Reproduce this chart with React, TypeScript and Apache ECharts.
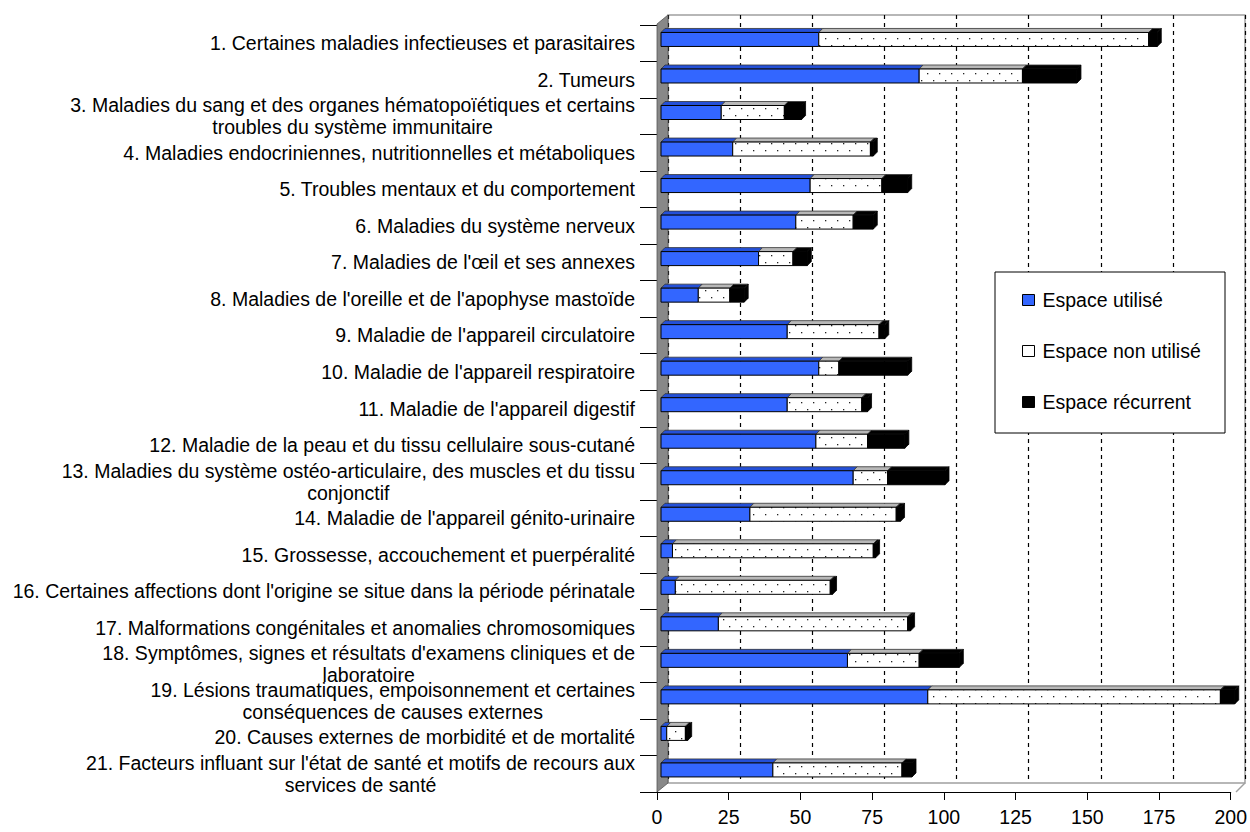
import React, { useEffect, useRef } from "react";
import * as echarts from "echarts";

const categories: string[] = [
  "1. Certaines maladies infectieuses et parasitaires",
  "2. Tumeurs",
  "3. Maladies du sang et des organes hématopoïétiques et certains\ntroubles du système immunitaire",
  "4. Maladies endocriniennes, nutritionnelles et métaboliques",
  "5. Troubles mentaux et du comportement",
  "6. Maladies du système nerveux",
  "7. Maladies de l'œil et ses annexes",
  "8. Maladies de l'oreille et de l'apophyse mastoïde",
  "9. Maladie de l'appareil circulatoire",
  "10. Maladie de l'appareil respiratoire",
  "11. Maladie de l'appareil digestif",
  "12. Maladie de la peau et du tissu cellulaire sous-cutané",
  "13. Maladies du système ostéo-articulaire, des muscles et du tissu\nconjonctif",
  "14. Maladie de l'appareil génito-urinaire",
  "15. Grossesse, accouchement et puerpéralité",
  "16. Certaines affections dont l'origine se situe dans la période périnatale",
  "17. Malformations congénitales et anomalies chromosomiques",
  "18. Symptômes, signes et résultats d'examens cliniques et de\nlaboratoire",
  "19. Lésions traumatiques, empoisonnement et certaines\nconséquences de causes externes",
  "20. Causes externes de morbidité et de mortalité",
  "21. Facteurs influant sur l'état de santé et motifs de recours aux\nservices de santé",
];

const seriesNames: string[] = ["Espace utilisé", "Espace non utilisé", "Espace récurrent"];

const espaceUtilise: number[] = [55, 90, 21, 25, 52, 47, 34, 13, 44, 55, 44, 54, 67, 31, 4, 5, 20, 65, 93, 2, 39];
const espaceNonUtilise: number[] = [115, 36, 22, 48, 25, 20, 12, 11, 32, 7, 26, 18, 12, 51, 70, 54, 66, 25, 102, 6.5, 45];
const espaceRecurrent: number[] = [3, 19, 6, 1, 9, 7, 5, 5, 2, 24, 2, 13, 20, 1.5, 0.8, 0.8, 1, 14, 5, 0.8, 3.5];

const xTicks: number[] = [0, 25, 50, 75, 100, 125, 150, 175, 200];

const FONT = "'Liberation Sans', Arial, sans-serif";

const dotTile =
  "data:image/svg+xml;charset=utf-8," +
  encodeURIComponent(
    '<svg xmlns="http://www.w3.org/2000/svg" width="12" height="14">' +
      '<rect width="12" height="14" fill="#ffffff"/>' +
      '<rect x="3" y="3" width="1.3" height="1.3" fill="#222"/>' +
      '<rect x="9" y="10" width="1.3" height="1.3" fill="#222"/>' +
      "</svg>"
  );

function buildSegments() {
  const seg: number[][][] = [[], [], []];
  categories.forEach((_, i) => {
    const a = espaceUtilise[i];
    const b = espaceNonUtilise[i];
    const c = espaceRecurrent[i];
    seg[0].push([i, 0, a]);
    seg[1].push([i, a, a + b]);
    seg[2].push([i, a + b, a + b + c]);
  });
  return seg;
}

const FRONT_COLORS = ["#3366ff", "pattern", "#000000"];
const TOP_COLORS = ["#2450d8", "#b8b8b8", "#000000"];

function makeRenderItem(kind: number) {
  return (params: any, api: any) => {
    const idx = api.value(0);
    const s = api.value(1);
    const e = api.value(2);
    const p0 = api.coord([s, idx]);
    const p1 = api.coord([e, idx]);
    const off = 4;
    const d = 4;
    const h = 14;
    const x0 = p0[0] + off;
    const x1 = p1[0] + off;
    const top = p0[1] - 10.8;
    const fill =
      kind === 1
        ? { image: dotTile, repeat: "repeat", imageWidth: 12, imageHeight: 14, x: 0, y: top }
        : FRONT_COLORS[kind];
    const children: any[] = [
      {
        type: "polygon",
        shape: {
          points: [
            [x0, top],
            [x0 + d, top - d],
            [x1 + d, top - d],
            [x1, top],
          ],
        },
        style: { fill: TOP_COLORS[kind], stroke: "#333", lineWidth: 0.8 },
      },
      {
        type: "rect",
        shape: { x: x0, y: top, width: Math.max(x1 - x0, 0.5), height: h },
        style: { fill, stroke: "#000", lineWidth: 1 },
      },
    ];
    if (kind === 2) {
      children.push({
        type: "polygon",
        shape: {
          points: [
            [x1, top],
            [x1 + d, top - d],
            [x1 + d, top + h - d],
            [x1, top + h],
          ],
        },
        style: { fill: "#000", stroke: "#000", lineWidth: 0.8 },
      });
    }
    return { type: "group", children };
  };
}

function labelFormatter(value: string) {
  const lines = value.split("\n");
  if (lines.length === 1) return value;
  return lines.map((l) => "{c|" + l + "}").join("\n");
}

export default function App() {
  const ref = useRef<HTMLDivElement>(null);

  useEffect(() => {
    if (!ref.current) return;
    const chart = echarts.init(ref.current, null, { renderer: "svg" });
    const seg = buildSegments();

    const option: any = {
      animation: false,
      backgroundColor: "#ffffff",
      textStyle: { fontFamily: FONT },
      grid: [
        { left: 657, right: 14, top: 25, bottom: 40, containLabel: false },
        {
          left: 668,
          right: 5,
          top: 15,
          bottom: 49,
          show: true,
          borderColor: "#a0a0a0",
          borderWidth: 1.5,
          backgroundColor: "transparent",
        },
      ],
      xAxis: [
        {
          type: "value",
          gridIndex: 0,
          min: xTicks[0],
          max: xTicks[xTicks.length - 1],
          interval: 25,
          axisLine: { show: true, lineStyle: { color: "#000", width: 1 } },
          axisTick: { show: true, length: 8, lineStyle: { color: "#000" } },
          axisLabel: { color: "#000", fontSize: 19.5, fontFamily: FONT, margin: 15 },
          splitLine: { show: false },
        },
        {
          type: "value",
          gridIndex: 1,
          min: xTicks[0],
          max: xTicks[xTicks.length - 1],
          interval: 25,
          axisLine: { show: false },
          axisTick: { show: false },
          axisLabel: { show: false },
          splitLine: { show: true, lineStyle: { color: "#000", type: [4, 4], width: 1.2 } },
        },
      ],
      yAxis: [
        {
          type: "category",
          gridIndex: 0,
          inverse: true,
          data: categories,
          axisLine: { show: true, lineStyle: { color: "#000", width: 1 } },
          axisTick: { show: true, length: 17, lineStyle: { color: "#000" } },
          axisLabel: {
            color: "#000",
            fontSize: 19.5,
            fontFamily: FONT,
            lineHeight: 22,
            margin: 22,
            interval: 0,
            formatter: labelFormatter,
            rich: { c: { align: "center", fontSize: 19.5, lineHeight: 22, fontFamily: FONT, color: "#000" } },
          },
          splitLine: { show: false },
        },
        { type: "value", gridIndex: 1, show: false, min: 0, max: 1 },
      ],
      legend: {
        orient: "vertical",
        left: 1022,
        top: 289,
        padding: 0,
        itemGap: 29,
        itemWidth: 12,
        itemHeight: 11,
        z: 60,
        textStyle: { color: "#000", fontSize: 19.5, fontFamily: FONT, lineHeight: 22, padding: [0, 0, 0, 3] },
        data: [
          { name: seriesNames[0], icon: "rect", itemStyle: { color: "#3366ff", borderColor: "#000", borderWidth: 1 } },
          { name: seriesNames[1], icon: "rect", itemStyle: { color: "#ffffff", borderColor: "#000", borderWidth: 1 } },
          { name: seriesNames[2], icon: "rect", itemStyle: { color: "#000000", borderColor: "#000", borderWidth: 1 } },
        ],
      },
      graphic: [
        {
          type: "polygon",
          z: 1,
          shape: { points: [[657, 24], [668, 15], [668, 783], [657, 792]] },
          style: { fill: "#888888", stroke: "#555", lineWidth: 0.8 },
        },
        {
          type: "line",
          z: 1,
          shape: { x1: 1236, y1: 792, x2: 1245, y2: 783 },
          style: { stroke: "#a0a0a0", lineWidth: 1.5 },
        },
        {
          type: "rect",
          z: 50,
          shape: { x: 995, y: 272, width: 230, height: 161 },
          style: { fill: "#ffffff", stroke: "#000", lineWidth: 1 },
        },
      ],
      series: [0, 1, 2].map((k) => ({
        name: seriesNames[k],
        type: "custom",
        xAxisIndex: 0,
        yAxisIndex: 0,
        z: 5,
        itemStyle: { color: k === 0 ? "#3366ff" : k === 1 ? "#ffffff" : "#000000" },
        encode: { x: [1, 2], y: 0 },
        renderItem: makeRenderItem(k),
        data: seg[k],
      })),
    };

    chart.setOption(option);
    return () => chart.dispose();
  }, []);

  return (
    <div
      ref={ref}
      style={{ position: "fixed", left: 0, top: 0, width: 1250, height: 832 }}
    />
  );
}
